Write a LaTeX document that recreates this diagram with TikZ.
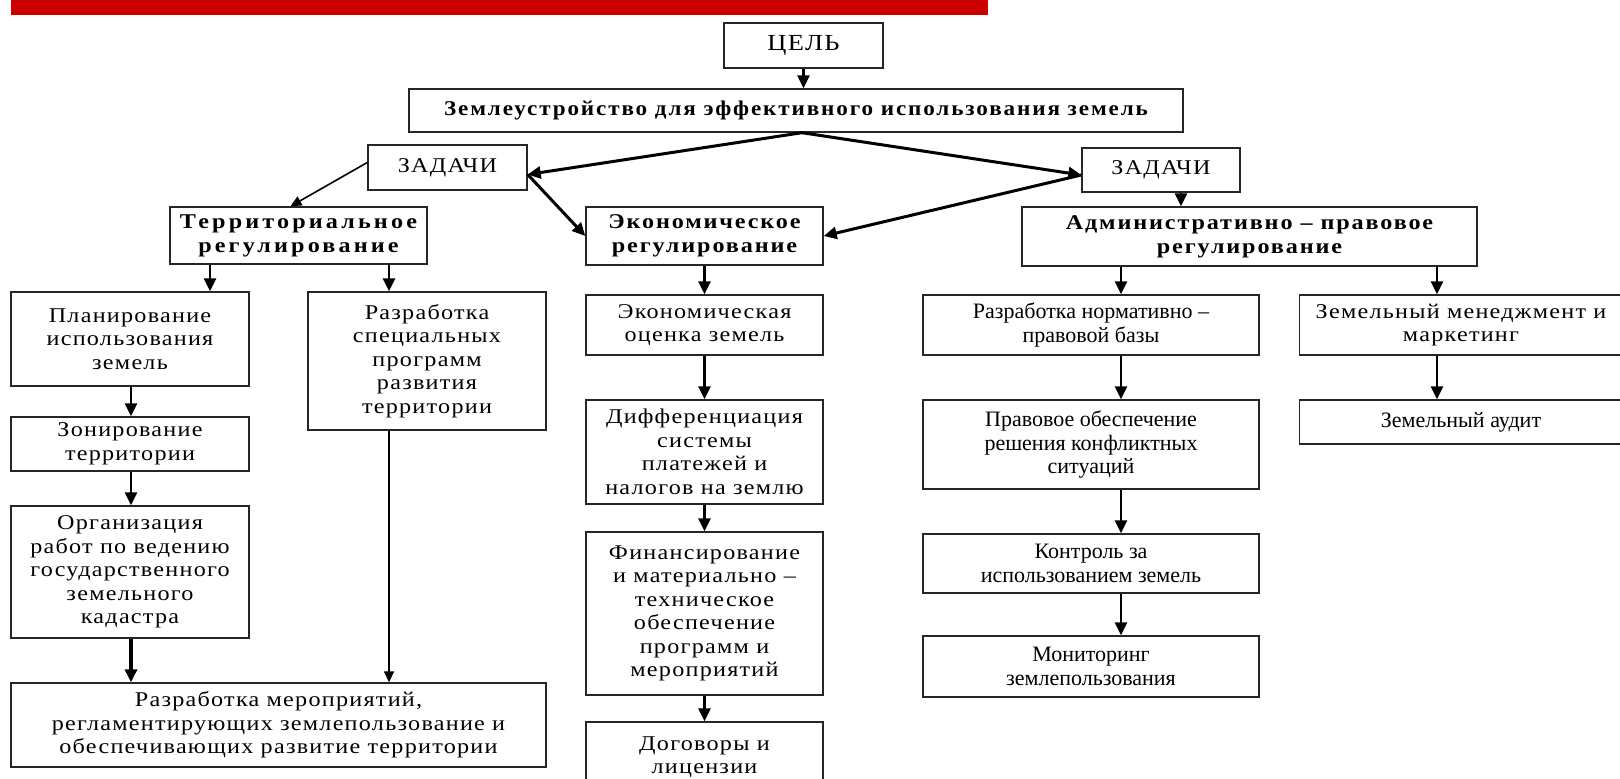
\documentclass[tikz,border=0pt]{standalone}
\usepackage{fontspec}
\setmainfont{Liberation Serif}
\newfontfamily\widefont[FakeStretch=1.15, LetterSpace=6]{Liberation Serif}
\newfontfamily\boldwide[FakeStretch=1.15, LetterSpace=9]{Liberation Serif}
\newfontfamily\zemfont[FakeStretch=1.1, LetterSpace=9]{Liberation Serif}
\usepackage{tikz}
\usetikzlibrary{arrows.meta}
\usepackage{xcolor}
\definecolor{barred}{RGB}{204,0,0}

\newcommand{\txt}{\fontsize{22}{23.5}\selectfont}
\newcommand{\wtxt}{\widefont\fontsize{21}{23.5}\selectfont}
\newcommand{\btxt}{\boldwide\bfseries\fontsize{21}{24}\selectfont}
\newcommand{\ztxt}{\zemfont\bfseries\fontsize{21}{24}\selectfont}

\tikzset{
  box/.style={draw=black!85, line width=1.4pt, fill=white, inner sep=0pt, align=center, font=\txt},
  wbox/.style={box, font=\wtxt},
  bbox/.style={box, font=\btxt},
  arr/.style={-{Triangle[length=13pt,width=12pt]}, line width=2.5pt},
  thinarr/.style={-{Triangle[length=11pt,width=10pt]}, line width=1.6pt},
}

\begin{document}
\begin{tikzpicture}[x=1pt, y=-1pt]
            \useasboundingbox[fill=white] (0,0) rectangle (1620,779);
            \fill[barred] (11,0) rectangle (988,15);

            \node[box, font=\widefont\fontsize{23}{24}\selectfont, minimum width=159pt, minimum height=45pt] (cel) at (803.5,45.5) {ЦЕЛЬ};
            \node[box, font=\ztxt, minimum width=774pt, minimum height=43pt] (zem) at (796,110.5) {Землеустройство для эффективного использования земель};
            \node[wbox, minimum width=159pt, minimum height=45pt] (zadL) at (447.5,167.5) {ЗАДАЧИ};
            \node[wbox, minimum width=158pt, minimum height=44pt] (zadR) at (1161,170) {ЗАДАЧИ};

            \node[bbox, font=\btxt\addfontfeature{LetterSpace=15}, minimum width=257pt, minimum height=57pt] (terr) at (298.5,235.5) {Территориальное\\регулирование};
            \node[bbox, minimum width=237pt, minimum height=58pt] (ekon) at (704.5,236) {Экономическое\\регулирование};
            \node[bbox, minimum width=455pt, minimum height=59pt] (adm) at (1249.5,236.5) {Административно – правовое\\регулирование};

            \node[wbox, minimum width=238pt, minimum height=94pt] (plan) at (130,339) {Планирование\\использования\\земель};
            \node[wbox, minimum width=238pt, minimum height=138pt] (rspec) at (427,361) {Разработка\\специальных\\программ\\развития\\территории};
            \node[wbox, minimum width=238pt, minimum height=54pt] (zon) at (130,444) {Зонирование\\территории};
            \node[wbox, minimum width=238pt, minimum height=132pt] (org) at (130,572) {Организация\\работ по ведению\\государственного\\земельного\\кадастра};
            \node[wbox, minimum width=535pt, minimum height=84pt] (rmer) at (278.5,725) {Разработка мероприятий,\\регламентирующих землепользование и\\обеспечивающих развитие территории};

            \node[wbox, minimum width=237pt, minimum height=60pt] (eoc) at (704.5,325) {Экономическая\\оценка земель};
            \node[wbox, minimum width=237pt, minimum height=104pt] (diff) at (704.5,452) {Дифференциация\\системы\\платежей и\\налогов на землю};
            \node[wbox, minimum width=237pt, minimum height=163pt] (fin) at (704.5,613.5) {Финансирование\\и материально –\\техническое\\обеспечение\\программ и\\мероприятий};
            \node[wbox, minimum width=237pt, minimum height=70pt] (dog) at (704.5,757) {Договоры и\\лицензии};

            \node[box, minimum width=336pt, minimum height=60pt] (norm) at (1091,325) {Разработка нормативно –\\правовой базы};
            \node[box, minimum width=336pt, minimum height=89pt] (prav) at (1091,444.5) {Правовое обеспечение\\решения конфликтных\\ситуаций};
            \node[box, minimum width=336pt, minimum height=59pt] (kontr) at (1091,563.5) {Контроль за\\использованием земель};
            \node[box, minimum width=336pt, minimum height=61pt] (monit) at (1091,666.5) {Мониторинг\\землепользования};
            \node[wbox, minimum width=323pt, minimum height=60pt] (men) at (1461,325) {Земельный менеджмент и\\маркетинг};
            \node[box, minimum width=323pt, minimum height=44pt] (aud) at (1461,422) {Земельный аудит};

            \draw[arr] (cel.south) -- (cel.south |- zem.north);
            \draw[arr, line width=3pt] ([xshift=6pt]zem.south) -- ([yshift=-7pt]zadL.east);
            \draw[arr, line width=3pt] ([xshift=6pt]zem.south) -- ([yshift=-5pt]zadR.west);
            \draw[arr, line width=3pt] ([yshift=-7pt]zadL.east) -- (ekon.west);
            \draw[arr, line width=3pt] ([yshift=-5pt]zadR.west) -- (ekon.east);
            \draw[thinarr] ([yshift=5pt]zadL.west) -- ([xshift=-8pt]terr.north);
            \draw[arr] (zadR.south -| 1181,0) -- (adm.north -| 1181,0);

            \draw[arr] (terr.south -| 210,0) -- (plan.north -| 210,0);
            \draw[arr] (terr.south -| 389,0) -- (rspec.north -| 389,0);
            \draw[arr] (plan.south -| 131,0) -- (zon.north -| 131,0);
            \draw[arr] (zon.south -| 131,0) -- (org.north -| 131,0);
            \draw[arr, line width=3.5pt] (org.south -| 131,0) -- (rmer.north -| 131,0);
            \draw[thinarr] (rspec.south -| 389,0) -- (rmer.north -| 389,0);

            \draw[arr] (ekon.south) -- (eoc.north);
            \draw[arr] (eoc.south) -- (diff.north);
            \draw[arr] (diff.south) -- (fin.north);
            \draw[arr] (fin.south) -- (dog.north);

            \draw[arr] (adm.south -| 1121,0) -- (norm.north -| 1121,0);
            \draw[arr] (adm.south -| 1437,0) -- (men.north -| 1437,0);
            \draw[arr] (norm.south -| 1121,0) -- (prav.north -| 1121,0);
            \draw[arr] (prav.south -| 1121,0) -- (kontr.north -| 1121,0);
            \draw[arr] (kontr.south -| 1121,0) -- (monit.north -| 1121,0);
            \draw[arr] (men.south -| 1437,0) -- (aud.north -| 1437,0);
\end{tikzpicture}
\end{document}
